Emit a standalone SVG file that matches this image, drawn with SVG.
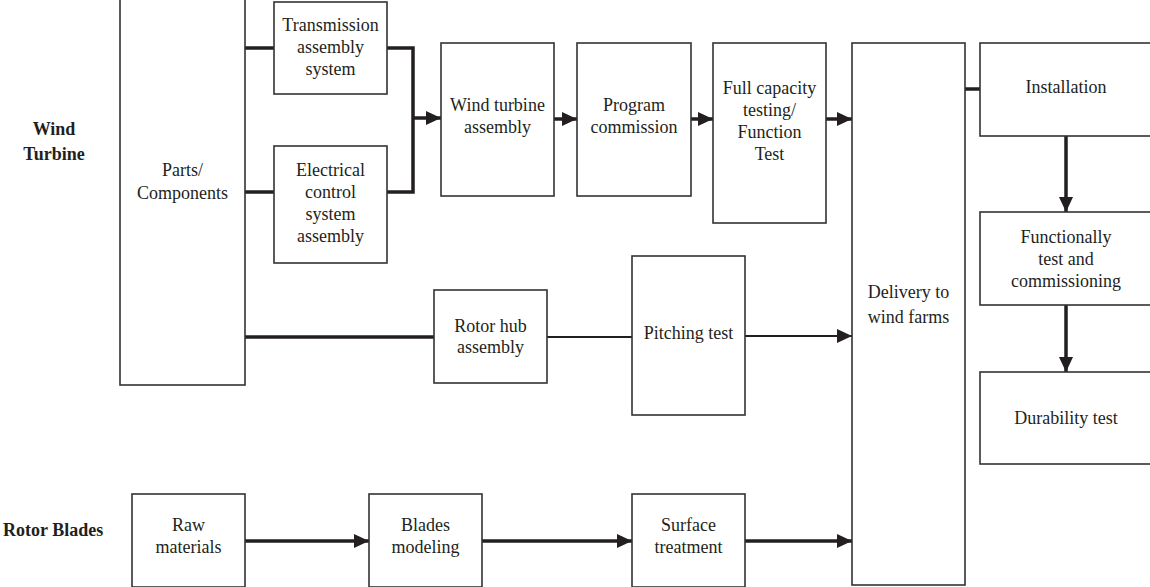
<svg xmlns="http://www.w3.org/2000/svg" width="1150" height="587" viewBox="0 0 1150 587">
<style>
.box{fill:#fff;stroke:#333;stroke-width:1.6}
.t{font-family:"Liberation Serif","Times New Roman",serif;font-size:18px;fill:#231f20;text-anchor:middle}
.lb{font-family:"Liberation Serif","Times New Roman",serif;font-size:18px;font-weight:bold;fill:#231f20}
.c{fill:none;stroke:#231f20;stroke-width:3.5}
.cn{fill:none;stroke:#231f20;stroke-width:2.2}
</style>
<defs>
<marker id="ah" markerUnits="userSpaceOnUse" markerWidth="15" markerHeight="14" refX="15" refY="7" orient="auto">
<path d="M0,0 L15,7 L0,14 z" fill="#231f20"/>
</marker>
</defs>
<rect width="1150" height="587" fill="#fff"/>
<g id="labels">
<text class="lb" x="54" y="135" text-anchor="middle">Wind</text>
<text class="lb" x="54" y="160" text-anchor="middle">Turbine</text>
<text class="lb" x="3" y="536">Rotor Blades</text>
</g>
<g id="connectors">
<line class="c" x1="245" y1="48" x2="274" y2="48"/>
<line class="c" x1="245" y1="192" x2="274" y2="192"/>
<polyline class="c" points="387,48 413,48 413,192 387,192"/>
<line class="c" x1="413" y1="118" x2="441" y2="118" marker-end="url(#ah)"/>
<line class="c" x1="554" y1="119" x2="577" y2="119" marker-end="url(#ah)"/>
<line class="c" x1="691" y1="119" x2="713" y2="119" marker-end="url(#ah)"/>
<line class="c" x1="826" y1="119" x2="852" y2="119" marker-end="url(#ah)"/>
<line class="c" x1="965" y1="89" x2="980" y2="89"/>
<line class="c" x1="1066" y1="136" x2="1066" y2="212" marker-end="url(#ah)"/>
<line class="c" x1="1066" y1="305" x2="1066" y2="372" marker-end="url(#ah)"/>
<line class="c" x1="245" y1="337" x2="434" y2="337"/>
<line class="cn" x1="547" y1="337" x2="632" y2="337"/>
<line class="cn" x1="745" y1="336" x2="852" y2="336" marker-end="url(#ah)"/>
<line class="c" x1="245" y1="541" x2="369" y2="541" marker-end="url(#ah)"/>
<line class="c" x1="482" y1="541" x2="632" y2="541" marker-end="url(#ah)"/>
<line class="c" x1="745" y1="541" x2="852" y2="541" marker-end="url(#ah)"/>
</g>
<g id="parts">
<rect class="box" x="120" y="-1" width="125" height="386"/>
<text class="t" x="182.5" y="176">Parts/</text>
<text class="t" x="182.5" y="199">Components</text>
</g>
<g id="transmission">
<rect class="box" x="274" y="2" width="113" height="92"/>
<text class="t" x="330.5" y="31">Transmission</text>
<text class="t" x="330.5" y="53">assembly</text>
<text class="t" x="330.5" y="75">system</text>
</g>
<g id="electrical">
<rect class="box" x="274" y="146" width="113" height="117"/>
<text class="t" x="330.5" y="176">Electrical</text>
<text class="t" x="330.5" y="198">control</text>
<text class="t" x="330.5" y="220">system</text>
<text class="t" x="330.5" y="242">assembly</text>
</g>
<g id="windturbine">
<rect class="box" x="441" y="43" width="113" height="153"/>
<text class="t" x="497.5" y="111">Wind turbine</text>
<text class="t" x="497.5" y="133">assembly</text>
</g>
<g id="program">
<rect class="box" x="577" y="43" width="114" height="153"/>
<text class="t" x="634" y="111">Program</text>
<text class="t" x="634" y="133">commission</text>
</g>
<g id="fullcapacity">
<rect class="box" x="713" y="43" width="113" height="180"/>
<text class="t" x="769.5" y="94">Full capacity</text>
<text class="t" x="769.5" y="116">testing/</text>
<text class="t" x="769.5" y="138">Function</text>
<text class="t" x="769.5" y="160">Test</text>
</g>
<g id="delivery">
<rect class="box" x="852" y="43" width="113" height="542"/>
<text class="t" x="908.5" y="298">Delivery to</text>
<text class="t" x="908.5" y="323">wind farms</text>
</g>
<g id="installation">
<rect class="box" x="980" y="43" width="172" height="93"/>
<text class="t" x="1066" y="93">Installation</text>
</g>
<g id="functionally">
<rect class="box" x="980" y="212" width="172" height="93"/>
<text class="t" x="1066" y="243">Functionally</text>
<text class="t" x="1066" y="265">test and</text>
<text class="t" x="1066" y="287">commissioning</text>
</g>
<g id="durability">
<rect class="box" x="980" y="372" width="172" height="92"/>
<text class="t" x="1066" y="424">Durability test</text>
</g>
<g id="rotorhub">
<rect class="box" x="434" y="290" width="113" height="93"/>
<text class="t" x="490.5" y="332">Rotor hub</text>
<text class="t" x="490.5" y="353">assembly</text>
</g>
<g id="pitching">
<rect class="box" x="632" y="256" width="113" height="159"/>
<text class="t" x="688.5" y="339">Pitching test</text>
</g>
<g id="raw">
<rect class="box" x="132" y="494" width="113" height="93"/>
<text class="t" x="188.5" y="531">Raw</text>
<text class="t" x="188.5" y="553">materials</text>
</g>
<g id="blades">
<rect class="box" x="369" y="494" width="113" height="93"/>
<text class="t" x="425.5" y="531">Blades</text>
<text class="t" x="425.5" y="553">modeling</text>
</g>
<g id="surface">
<rect class="box" x="632" y="494" width="113" height="93"/>
<text class="t" x="688.5" y="531">Surface</text>
<text class="t" x="688.5" y="553">treatment</text>
</g>
</svg>
